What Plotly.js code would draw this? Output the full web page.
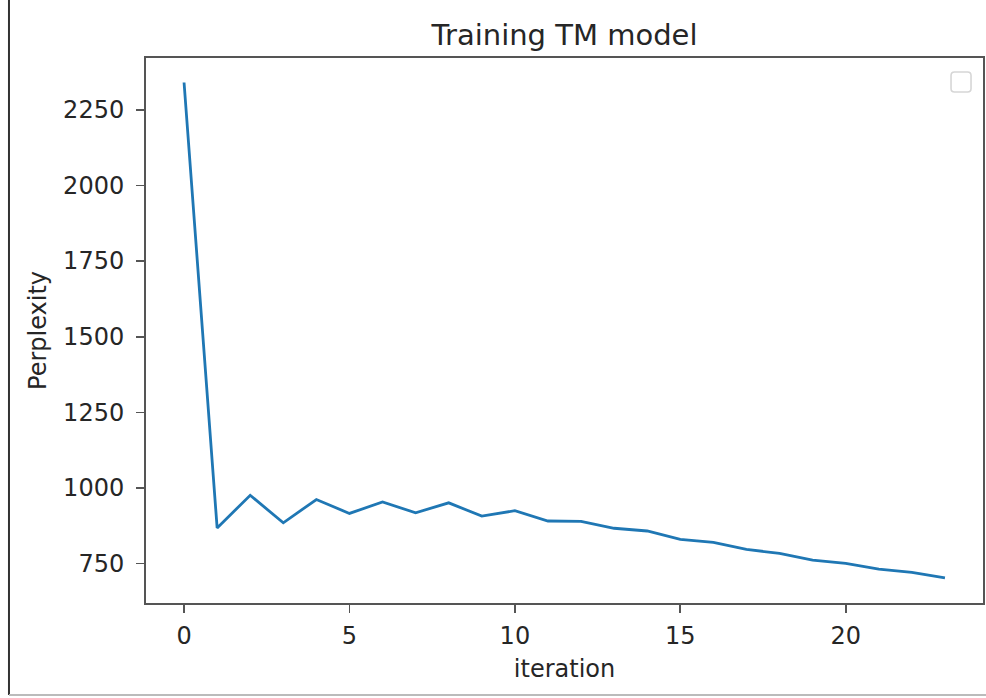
<!DOCTYPE html>
<html>
<head>
<meta charset="utf-8">
<script src="https://cdn.plot.ly/plotly-3.0.1.min.js"></script>
<style>html,body{margin:0;padding:0;background:#fff;}#chart{width:986px;height:698px;}</style>
</head>
<body>
<div id="chart"></div>
<script>
const iterations = [0,1,2,3,4,5,6,7,8,9,10,11,12,13,14,15,16,17,18,19,20,21,22,23];
const perplexity = [2340,868,976,885,962,916,954,918,951,907,925,891,890,867,858,830,820,797,784,762,751,732,721,703];
const xTicks = [0,5,10,15,20];
const yTicks = [750,1000,1250,1500,1750,2000,2250];

const font = {family: 'DejaVu Sans', color: '#262626'};
const trace = {
  x: iterations, y: perplexity, type: 'scatter', mode: 'lines',
  line: {color: '#1f77b4', width: 2.8}, showlegend: false
};
const axisCommon = {
  showgrid: false, zeroline: false, showline: true, mirror: true,
  linecolor: '#555', linewidth: 2, ticks: 'outside', ticklen: 8, tickwidth: 1.6,
  tickcolor: '#555', tickfont: Object.assign({size: 24}, font)
};
// rounded empty legend box (paper coords)
const bx0 = 0.9618, bx1 = 0.9857, by0 = 0.9376, by1 = 0.9743, rx = 0.0042, ry = 0.0065;
const legendPath = `M ${bx0+rx},${by0} L ${bx1-rx},${by0} Q ${bx1},${by0} ${bx1},${by0+ry} L ${bx1},${by1-ry} Q ${bx1},${by1} ${bx1-rx},${by1} L ${bx0+rx},${by1} Q ${bx0},${by1} ${bx0},${by1-ry} L ${bx0},${by0+ry} Q ${bx0},${by0} ${bx0+rx},${by0} Z`;
const layout = {
  width: 986, height: 698,
  margin: {l: 146, r: 3, t: 58, b: 95},
  paper_bgcolor: '#fff', plot_bgcolor: '#fff',
  title: {text: 'Training TM model', font: Object.assign({size: 29}, font), x: 0.5, xref: 'paper', y: 0.95, yanchor: 'middle'},
  xaxis: Object.assign({}, axisCommon, {range: [-1.15, 24.15], tickvals: xTicks, ticklabelstandoff: 2,
    title: {text: 'iteration', font: Object.assign({size: 24}, font), standoff: 11}}),
  yaxis: Object.assign({}, axisCommon, {range: [620, 2421], tickvals: yTicks, ticklabelstandoff: 7,
    title: {text: 'Perplexity', font: Object.assign({size: 24}, font), standoff: 10}}),
  shapes: [
    {type: 'path', xref: 'paper', yref: 'paper', path: legendPath,
     line: {color: '#d6d6d6', width: 1.6}, fillcolor: 'rgba(255,255,255,0.8)'},
    {type: 'line', xref: 'paper', yref: 'paper', x0: -0.1637, x1: -0.1637, y0: -0.1688, y1: 1.11,
     line: {color: '#333', width: 2}},
    {type: 'line', xref: 'paper', yref: 'paper', x0: -0.1637, x1: 1.005, y0: -0.1688, y1: -0.1688,
     line: {color: '#bbb', width: 2}}
  ]
};
Plotly.newPlot('chart', [trace], layout, {displayModeBar: false, staticPlot: true});
</script>
</body>
</html>
